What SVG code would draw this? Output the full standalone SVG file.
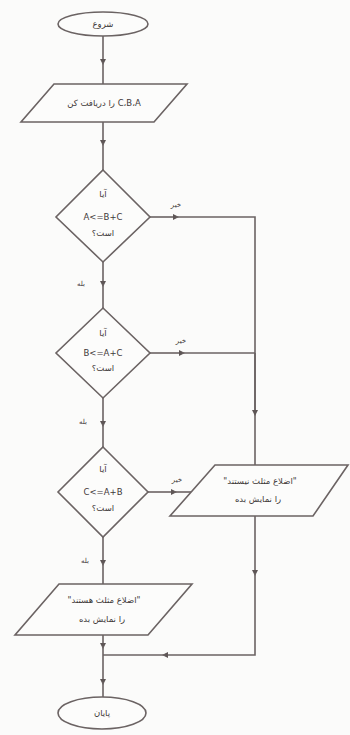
<svg xmlns="http://www.w3.org/2000/svg" width="350" height="735" viewBox="0 0 350 735">
<defs>
<marker id="ah" viewBox="0 0 10 10" refX="5" refY="5" markerWidth="6" markerHeight="6" orient="auto" markerUnits="userSpaceOnUse">
<path d="M0,0 L10,5 L0,10 z" fill="#5e5656"/>
</marker>
</defs>
<style>
.s{fill:none;stroke:#6b6363;stroke-width:1.6}
.n{fill:#fcfcfb;stroke:#6b6363;stroke-width:1.6}
.t{font-family:"DejaVu Sans",sans-serif;font-size:8.5px;fill:#3f3939;text-anchor:middle}
.l{font-family:"DejaVu Sans",sans-serif;font-size:7px;fill:#3f3939;text-anchor:middle}
</style>
<rect width="350" height="735" fill="#fbfbfa"/>
<g id="connectors">
<path class="s" d="M103,36 V62" marker-end="url(#ah)"/><path class="s" d="M103,62 V84"/>
<path class="s" d="M103,122 V143" marker-end="url(#ah)"/><path class="s" d="M103,143 V170"/>
<path class="s" d="M103,262 V284" marker-end="url(#ah)"/><path class="s" d="M103,284 V308"/>
<path class="s" d="M103,398 V424" marker-end="url(#ah)"/><path class="s" d="M103,424 V447"/>
<path class="s" d="M103,537 V563" marker-end="url(#ah)"/><path class="s" d="M103,563 V584"/>
<path class="s" d="M103,635 V646" marker-end="url(#ah)"/><path class="s" d="M103,646 V682" marker-end="url(#ah)"/><path class="s" d="M103,682 V697"/>
<path class="s" d="M150,217 H176" marker-end="url(#ah)"/><path class="s" d="M176,217 H255 V465"/>
<path class="s" d="M150,353 H182" marker-end="url(#ah)"/><path class="s" d="M182,353 H255"/>
<path class="s" d="M255,353 V413" marker-end="url(#ah)"/>
<path class="s" d="M148,492 H174" marker-end="url(#ah)"/><path class="s" d="M174,492 H191"/>
<path class="s" d="M255,516 V573" marker-end="url(#ah)"/><path class="s" d="M255,573 V655 H165" marker-end="url(#ah)"/><path class="s" d="M165,655 H103"/>
<text class="l" x="176" y="207" direction="rtl">خیر</text>
<text class="l" x="181" y="343" direction="rtl">خیر</text>
<text class="l" x="177" y="482" direction="rtl">خیر</text>
<text class="l" x="81" y="286" direction="rtl">بله</text>
<text class="l" x="83" y="424" direction="rtl">بله</text>
<text class="l" x="85" y="563" direction="rtl">بله</text>
</g>
<g id="start">
<ellipse class="n" cx="103" cy="24" rx="45" ry="12"/>
<text class="t" x="103" y="27" direction="rtl">شروع</text>
</g>
<g id="input">
<polygon class="n" points="54,84 187,84 154,122 21,122"/>
<text class="t" x="104" y="106" direction="rtl">C،B،A را دریافت کن</text>
</g>
<g id="cond1">
<polygon class="n" points="103,170 150,217 103,262 56,217"/>
<text class="t" x="103" y="197" direction="rtl">آیا</text>
<text class="t" x="103" y="220">A&lt;=B+C</text>
<text class="t" x="103" y="236" direction="rtl">است؟</text>
</g>
<g id="cond2">
<polygon class="n" points="103,308 150,353 103,398 56,353"/>
<text class="t" x="103" y="336" direction="rtl">آیا</text>
<text class="t" x="103" y="356">B&lt;=A+C</text>
<text class="t" x="103" y="371" direction="rtl">است؟</text>
</g>
<g id="cond3">
<polygon class="n" points="103,447 148,492 103,537 58,492"/>
<text class="t" x="103" y="472" direction="rtl">آیا</text>
<text class="t" x="103" y="495">C&lt;=A+B</text>
<text class="t" x="103" y="511" direction="rtl">است؟</text>
</g>
<g id="notTriangle">
<polygon class="n" points="215,465 348,465 313,516 170,516"/>
<text class="t" x="260" y="484" direction="rtl">"اضلاع مثلث نیستند"</text>
<text class="t" x="258" y="502" direction="rtl">را نمایش بده</text>
</g>
<g id="isTriangle">
<polygon class="n" points="59,584 192,584 148,635 15,635"/>
<text class="t" x="104" y="603" direction="rtl">"اضلاع مثلث هستند"</text>
<text class="t" x="102" y="622" direction="rtl">را نمایش بده</text>
</g>
<g id="end">
<ellipse class="n" cx="102" cy="713" rx="44" ry="16"/>
<text class="t" x="102" y="716" direction="rtl">پایان</text>
</g>
</svg>
